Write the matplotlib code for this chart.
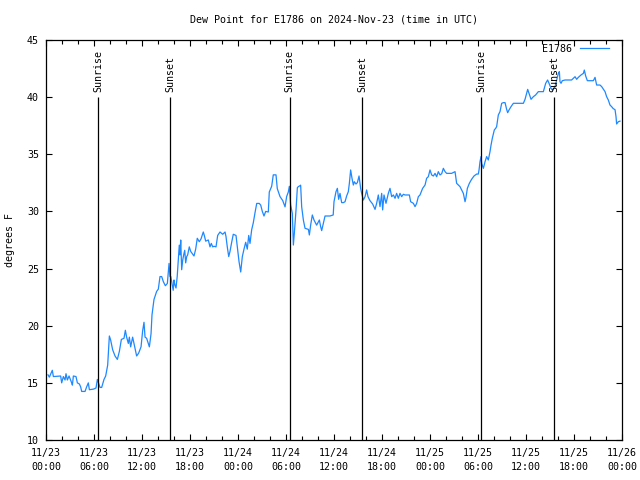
import matplotlib
matplotlib.use("Agg")
import matplotlib.pyplot as plt
from matplotlib.ticker import MultipleLocator

# hours since 2024-11-23 00:00 UTC
hours = [0.25, 0.42, 0.79, 0.92, 1.83, 1.96, 2.17, 2.38, 2.5, 2.67, 2.88, 3.21, 3.3, 3.42, 3.75, 3.92, 4.17, 4.33,
         4.46, 4.88, 5.08, 5.29, 5.42, 5.92, 6.25, 6.42, 6.58, 6.75, 6.96, 7.25, 7.46, 7.71, 7.92, 8.08, 8.33, 8.63,
         8.92, 9.17, 9.42, 9.75, 9.92, 10.08, 10.29, 10.42, 10.58, 10.83, 11.04, 11.33, 11.58, 11.88, 12.08, 12.25,
         12.38, 12.58, 12.92, 13.13, 13.25, 13.5, 13.83, 14.04, 14.25, 14.46, 14.67, 14.92, 15.17, 15.38, 15.5,
         15.6, 15.9, 16.0, 16.1, 16.25, 16.4, 16.54, 16.66, 16.75, 16.84, 16.96, 17.09, 17.21, 17.34, 17.46, 17.59,
         17.71, 17.91, 18.09, 18.29, 18.5, 18.71, 18.91, 19.16, 19.38, 19.66, 19.79, 19.96, 20.29, 20.5, 20.66,
         20.84, 21.0, 21.25, 21.46, 21.75, 22.09, 22.38, 22.5, 22.66, 22.84, 23.0, 23.21, 23.41, 23.75, 23.91,
         24.13, 24.34, 24.54, 24.75, 24.96, 25.16, 25.34, 25.5, 25.71, 25.91, 26.13, 26.34, 26.66, 26.84, 27.04,
         27.25, 27.46, 27.79, 27.91, 28.21, 28.41, 28.75, 28.91, 29.25, 29.59, 29.88,
         30.08, 30.29, 30.42, 30.58, 30.79, 30.92, 31.04, 31.25, 31.42, 31.54, 31.75, 31.83, 31.96, 32.17, 32.38,
         32.8, 32.92, 33.08, 33.29, 33.5, 33.83, 34.17, 34.33, 34.46, 34.67, 34.88, 35.5, 35.9,
         36.0, 36.25, 36.42, 36.58, 36.75, 36.96, 37.17, 37.38, 37.58, 37.79, 37.92, 38.08, 38.25, 38.42, 38.54,
         38.75, 38.92, 39.13, 39.33, 39.46, 39.67, 39.88, 40.08, 40.25, 40.5, 40.83, 41.13, 41.33, 41.54, 41.75,
         41.96, 42.08, 42.25, 42.5, 42.79, 43.0, 43.21, 43.42, 43.63, 43.83, 44.04, 44.25, 44.46, 44.67, 44.88,
         45.42, 45.58, 45.92, 46.13, 46.33, 46.54, 46.75, 47.08, 47.38, 47.58, 47.79, 48.0, 48.21, 48.42, 48.63,
         48.83, 49.04, 49.25, 49.46, 49.67, 49.88, 50.08, 50.7, 51.13, 51.33, 51.54, 51.75, 51.96, 52.17, 52.38,
         52.5, 52.67, 52.92, 53.2, 53.5, 53.83, 54.04,
         54.13, 54.25, 54.38, 54.46, 54.67, 54.88, 55.08, 55.29, 55.5, 55.63, 55.79, 56.04, 56.21, 56.33, 56.54,
         56.75, 56.96, 57.17, 57.38, 57.58, 57.71, 57.88, 58.13, 58.42, 59.04, 59.67, 59.88, 60.08, 60.21, 60.38,
         60.63, 60.92, 61.2, 61.54, 62.17, 62.46, 62.7, 62.88, 63.13, 63.29, 63.63, 63.83, 64.04, 64.17, 64.25,
         64.38, 64.54, 64.88, 65.7, 66.13, 66.33, 66.54, 66.88, 67.17, 67.29, 67.46, 67.67, 68.0, 68.42, 68.63,
         68.83, 69.25, 69.46, 69.88, 70.08, 70.29, 70.5, 70.7, 70.9, 71.13, 71.25, 71.33, 71.54, 71.75]

dew_point = [15.7, 15.5, 16.1, 15.55, 15.6, 15.0, 15.55, 15.25, 15.8, 15.25, 15.6, 15.0, 14.8, 15.6, 15.55, 15.0,
             14.9, 14.65, 14.25, 14.25, 14.65, 15.0, 14.4, 14.45, 14.55, 15.3, 14.95, 14.6, 14.6, 15.3, 15.6, 16.55,
             19.1, 18.75, 17.9, 17.35, 17.05, 17.75, 18.8, 18.9, 19.6, 19.0, 18.45, 19.0, 18.15, 19.0, 18.3, 17.35,
             17.6, 18.15, 19.55, 20.3, 19.0, 18.9, 18.15, 19.3, 20.95, 22.3, 23.0, 23.2, 24.3, 24.3, 23.85, 23.5,
             23.7, 25.45, 24.3,
             24.3, 23.1, 24.0, 23.6, 23.3, 24.3, 25.75, 27.05, 26.2, 27.5, 24.9, 25.75, 26.2, 26.6, 25.5, 26.05,
             26.2, 26.9, 26.5, 26.3, 26.1, 26.7, 27.65, 27.35, 27.6, 28.2, 27.9, 27.4, 27.5, 26.9, 27.2, 26.9,
             26.95, 26.9, 27.9, 28.2, 28.0, 28.2, 27.8, 26.9, 26.05, 26.5, 27.3, 28.0, 27.9, 26.9, 25.6, 24.7,
             26.05, 26.7, 27.3, 26.7, 27.9, 27.2, 28.4, 29.0, 29.9, 30.7, 30.7, 30.55, 30.0, 29.6, 30.0, 29.95,
             31.7, 32.2, 33.2, 33.2, 32.0, 31.3, 30.95, 30.4,
             31.3, 31.7, 32.2, 30.56, 29.83, 27.06, 28.08, 30.1, 32.08, 32.17, 32.25, 32.3, 30.4, 29.25, 28.52,
             28.43, 27.94, 28.8, 29.69, 29.25, 28.8, 29.25, 28.67, 28.32, 28.96, 29.6, 29.6, 29.69,
             30.85, 31.73, 32.02, 31.06, 31.58, 30.77, 30.77, 30.85, 31.35, 31.73, 32.46, 33.63, 32.9, 32.31, 32.6,
             32.4, 32.52, 33.1, 32.02, 31.58, 31.0, 31.29, 31.88, 31.29, 30.94, 30.65, 30.18, 30.71, 31.44, 30.42,
             31.58, 30.13, 31.44, 30.71, 31.58, 32.02, 31.29, 31.44, 31.15, 31.58, 31.15, 31.58, 31.29, 31.5, 31.44,
             31.44, 30.85, 30.71, 30.42, 30.7, 31.29, 31.44, 32.02, 32.31, 32.9, 33.04, 33.63, 33.19, 33.1, 33.33,
             33.04, 33.48, 33.19, 33.3, 33.77, 33.48, 33.33, 33.33, 33.48, 32.46, 32.31, 32.17, 31.88, 31.58, 30.85,
             31.23, 32.02, 32.46, 32.81, 33.1, 33.27, 33.27,
             33.63, 34.35, 34.8, 34.2, 33.77, 34.35, 34.8, 34.5, 35.23, 35.81, 36.4, 37.13, 37.27, 37.42, 38.44,
             38.73, 39.46, 39.52, 39.52, 38.93, 38.64, 38.88, 39.17, 39.46, 39.46, 39.46, 39.81, 40.33, 40.68, 40.33,
             39.81, 40.04, 40.19, 40.48, 40.48, 41.21, 41.5, 41.21, 40.77, 40.63, 40.92, 41.5, 42.08, 42.23, 41.35,
             41.21, 41.44, 41.5, 41.5, 41.79, 41.56, 41.73, 41.94, 42.08, 42.37, 41.85, 41.44, 41.44, 41.44, 41.73,
             41.06, 41.06, 40.92, 40.48, 40.04, 39.75, 39.31, 39.17, 39.0, 38.9, 38.3, 37.65, 37.85, 37.9]

sun_hours = [6.53, 15.5, 30.45, 39.53, 54.4, 63.53]
sun_labels = ["Sunrise", "Sunset", "Sunrise", "Sunset", "Sunrise", "Sunset"]

x_ticks = [0, 6, 12, 18, 24, 30, 36, 42, 48, 54, 60, 66, 72]
x_tick_labels = ["11/23\n00:00", "11/23\n06:00", "11/23\n12:00", "11/23\n18:00",
                 "11/24\n00:00", "11/24\n06:00", "11/24\n12:00", "11/24\n18:00",
                 "11/25\n00:00", "11/25\n06:00", "11/25\n12:00", "11/25\n18:00",
                 "11/26\n00:00"]

plt.rcParams['font.family'] = ['DejaVu Sans Mono']
fs = 7.2

fig = plt.figure(figsize=(6.4, 4.8), dpi=100)
ax = fig.add_axes([46 / 640, 40 / 480, 576 / 640, 400 / 480])

ax.plot(hours, dew_point, color='#1e88ff', lw=0.9, label='E1786')

for h, lab in zip(sun_hours, sun_labels):
    ax.vlines(h, 10, 40, color='black', lw=0.9)
    ax.text(h, 40.45, lab, rotation=90, ha='center', va='bottom', fontsize=fs)

ax.set_xlim(0, 72)
ax.set_ylim(10, 45)
ax.set_xticks(x_ticks)
labels = ax.set_xticklabels(x_tick_labels, fontsize=fs)
for lbl in labels:
    lbl.set_linespacing(1.45)
ax.xaxis.set_minor_locator(MultipleLocator(2))
ax.set_yticks(range(10, 46, 5))
ax.tick_params(axis='y', labelsize=fs, pad=5)
ax.tick_params(axis='x', pad=6)
ax.tick_params(which='both', direction='in', top=True, right=True, length=4, width=0.8)
ax.tick_params(which='minor', length=3)
for sp in ax.spines.values():
    sp.set_linewidth(0.9)

fig.text(334 / 640, 1 - 19 / 480, "Dew Point for E1786 on 2024-Nov-23 (time in UTC)",
         ha='center', va='center', fontsize=fs)
fig.text(10 / 640, 0.5, "degrees F", rotation=90, ha='center', va='center', fontsize=fs)

ax.legend(loc='upper right', bbox_to_anchor=(0.99, 1.0075), frameon=False, markerfirst=False,
          handlelength=2.9, fontsize=fs, borderaxespad=0.3, handletextpad=0.8)

fig.savefig('out.png', dpi=100)
